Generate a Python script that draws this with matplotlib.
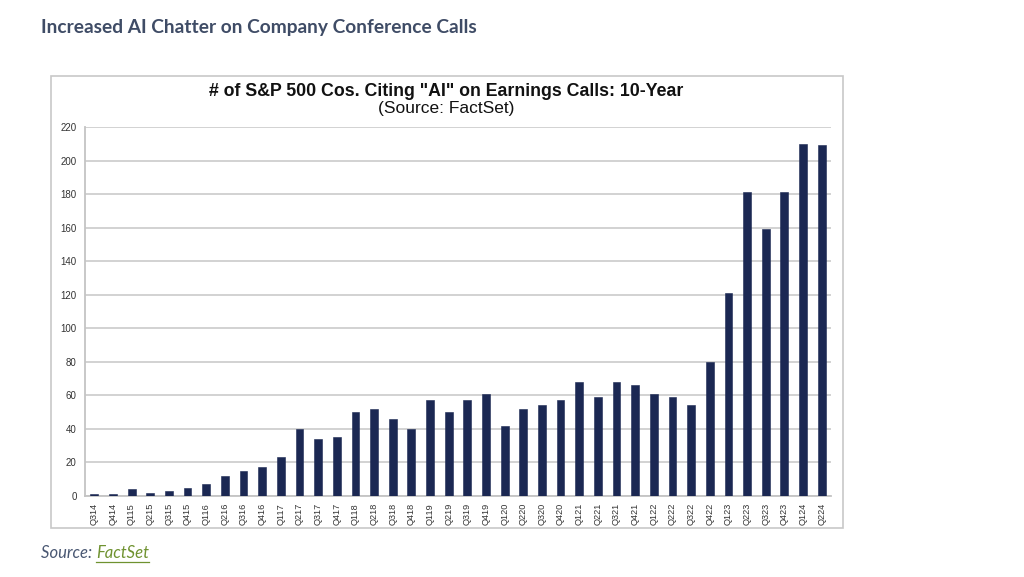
import numpy as np
import matplotlib.pyplot as plt
from matplotlib.patches import Rectangle
from matplotlib.lines import Line2D

quarters = ['Q314', 'Q414',
            'Q115', 'Q215', 'Q315', 'Q415',
            'Q116', 'Q216', 'Q316', 'Q416',
            'Q117', 'Q217', 'Q317', 'Q417',
            'Q118', 'Q218', 'Q318', 'Q418',
            'Q119', 'Q219', 'Q319', 'Q419',
            'Q120', 'Q220', 'Q320', 'Q420',
            'Q121', 'Q221', 'Q321', 'Q421',
            'Q122', 'Q222', 'Q322', 'Q422',
            'Q123', 'Q223', 'Q323', 'Q423',
            'Q124', 'Q224']
companies = [1, 1, 4, 2, 3, 5, 7, 12, 15, 17,
             23, 40, 34, 35, 50, 52, 46, 40,
             57, 50, 57, 61, 42, 52, 54, 57,
             68, 59, 68, 66, 61, 59, 54, 80,
             121, 181, 159, 181, 210, 209]
y_ticks = list(range(0, 221, 20))

page_title = 'Increased AI Chatter on Company Conference Calls'
chart_title = '# of S&P 500 Cos. Citing "AI" on Earnings Calls: 10-Year'
chart_subtitle = '(Source: FactSet)'

W, H = 1024, 577
fig = plt.figure(figsize=(W / 100, H / 100), dpi=100)
fig.patch.set_facecolor('white')

# framed chart image
fig.patches.append(Rectangle((51 / W, 1 - 528 / H), (843 - 51) / W, (528 - 76) / H,
                             transform=fig.transFigure, fill=False,
                             edgecolor='#c8c8c8', linewidth=1.2))

ax = fig.add_axes([85 / W, 1 - 496 / H, (831 - 85) / W, (496 - 127) / H])
x = np.arange(len(quarters))
ax.bar(x, companies, width=0.42, color='#1b2853', edgecolor='#1b2853', linewidth=0.4, zorder=3)
ax.set_xlim(-0.5, len(quarters) - 0.5)
ax.set_ylim(0, 220)
ax.set_yticks(y_ticks)
ax.set_yticklabels([str(t) for t in y_ticks], fontsize=7, color='#333333', family='Liberation Sans')
ax.set_xticks(x)
ax.set_xticklabels(quarters, rotation=90, fontsize=6.6, color='#333333', family='Liberation Sans')
ax.tick_params(axis='both', length=0)
ax.tick_params(axis='x', pad=5)
ax.tick_params(axis='y', pad=6)
ax.grid(axis='y', color='#cfcfcf', linewidth=1.3, zorder=0)
for s in ['top', 'right']:
    ax.spines[s].set_visible(False)
for s in ['left', 'bottom']:
    ax.spines[s].set_color('#c4c4c4')
    ax.spines[s].set_linewidth(1.3)

fig.text(446 / W, 1 - 91 / H, chart_title, ha='center', va='center',
         fontsize=12.8, fontweight='bold', family='Liberation Sans', color='#111111')
fig.text(446 / W, 1 - 108 / H, chart_subtitle, ha='center', va='center',
         fontsize=12.5, family='Liberation Sans', color='#111111')

fig.text(41 / W, 1 - 27 / H, page_title, ha='left', va='center',
         fontsize=13.8, fontweight='bold', family='Lato', color='#3f4c66')

src = fig.text(41 / W, 1 - 553 / H, 'Source: ', ha='left', va='center',
               fontsize=12, style='italic', family='Lato', color='#4a5873')
fig.canvas.draw()
bb = src.get_window_extent()
link = fig.text(bb.x1 / W, 1 - 553 / H, 'FactSet', ha='left', va='center',
                fontsize=12, style='italic', family='Lato', color='#6f9230')
fig.canvas.draw()
lb = link.get_window_extent()
fig.lines.append(Line2D([lb.x0 / W, lb.x1 / W], [(lb.y0 - 1) / H, (lb.y0 - 1) / H],
                        transform=fig.transFigure, color='#6f9230', linewidth=0.9))

fig.savefig('out.png', dpi=100, facecolor='white')
